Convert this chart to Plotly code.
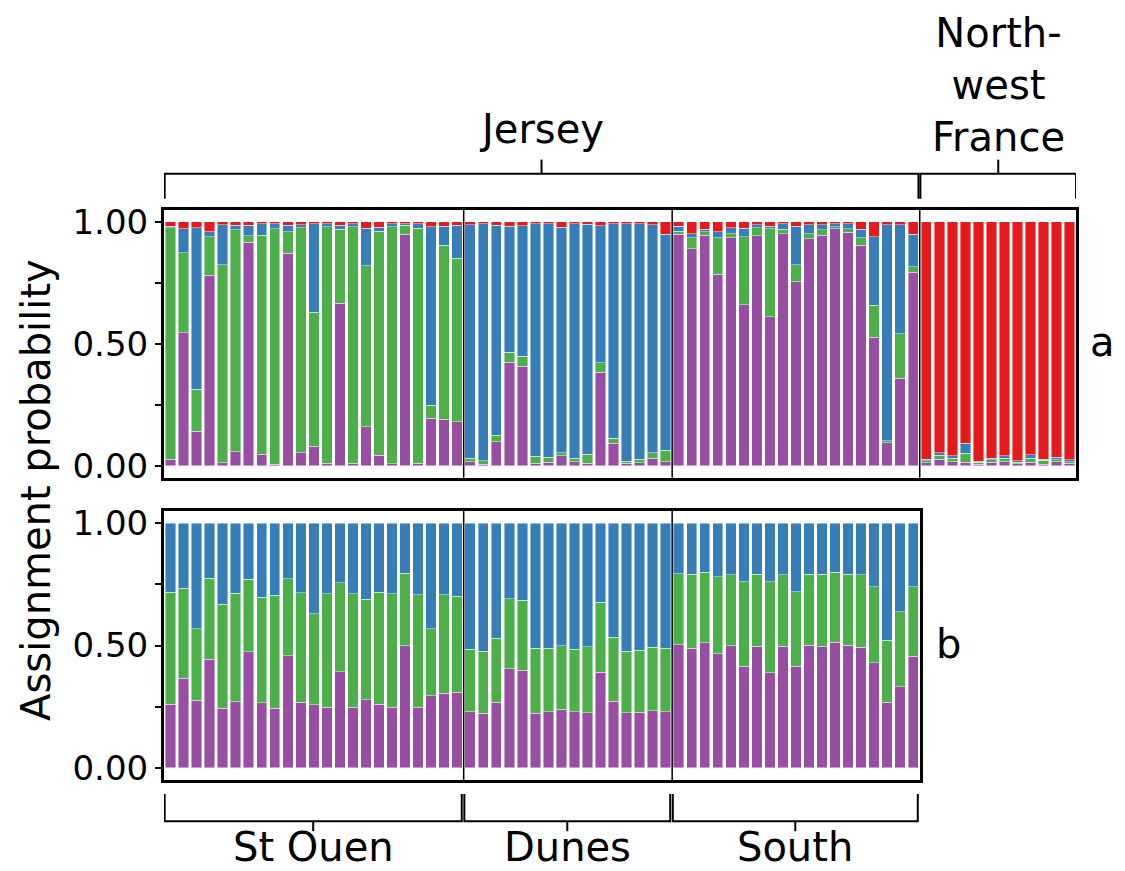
import numpy as np
import plotly.graph_objects as go

# ---------------- data ----------------
groups_a = ["St Ouen", "Dunes", "South", "North-west France"]
groups_b = ["St Ouen", "Dunes", "South"]

# Panel a: cumulative upper edges (purple, purple+green, purple+green+blue); red fills to 1
stouen_a_purple = [0.027,0.545,0.142,0.782,0.011,0.057,0.916,0.047,0.005,0.871,0.054,0.079,0.009,0.667,0.009,0.159,0.043,0.007,0.949,0.009,0.195,0.190,0.180]
stouen_a_green_top = [0.976,0.874,0.314,0.939,0.825,0.967,0.942,0.946,0.972,0.959,0.976,0.630,0.980,0.969,0.980,0.820,0.962,0.980,0.986,0.973,0.248,0.904,0.851]
stouen_a_blue_top = [0.982,0.972,0.976,0.959,0.989,0.986,0.986,0.992,0.992,0.986,0.989,0.992,0.992,0.986,0.993,0.973,0.978,0.992,0.992,0.993,0.980,0.982,0.986]

dunes_a_purple = [0.016,0.005,0.099,0.424,0.408,0.009,0.014,0.041,0.016,0.009,0.383,0.091,0.009,0.011,0.030,0.016]
dunes_a_green_top = [0.030,0.020,0.125,0.466,0.449,0.038,0.035,0.054,0.031,0.047,0.423,0.112,0.019,0.027,0.052,0.064]
dunes_a_blue_top = [0.989,0.993,0.986,0.981,0.985,0.992,0.993,0.978,0.993,0.990,0.985,0.993,0.993,0.993,0.989,0.949]

south_a_purple = [0.949,0.890,0.946,0.786,0.935,0.660,0.944,0.610,0.951,0.755,0.931,0.946,0.972,0.958,0.905,0.526,0.095,0.359,0.793]
south_a_green_top = [0.962,0.935,0.959,0.935,0.951,0.939,0.976,0.972,0.969,0.824,0.951,0.967,0.980,0.972,0.935,0.657,0.102,0.542,0.816]
south_a_blue_top = [0.982,0.951,0.969,0.959,0.976,0.973,0.989,0.982,0.993,0.982,0.989,0.989,0.993,0.993,0.969,0.938,0.989,0.989,0.949]

france_a_purple = [0.011,0.027,0.016,0.014,0.005,0.014,0.016,0.007,0.014,0.005,0.016,0.009]
france_a_green_top = [0.020,0.043,0.030,0.051,0.014,0.024,0.030,0.014,0.030,0.022,0.024,0.016]
france_a_blue_top = [0.027,0.052,0.041,0.092,0.019,0.030,0.041,0.020,0.045,0.027,0.034,0.024]

# Panel b: cumulative upper edges (purple, purple+green); blue fills to 1
stouen_b_purple = [0.260,0.366,0.276,0.443,0.244,0.271,0.474,0.267,0.244,0.458,0.268,0.257,0.247,0.392,0.247,0.279,0.260,0.247,0.499,0.248,0.294,0.305,0.309]
stouen_b_green_top = [0.718,0.734,0.569,0.775,0.668,0.714,0.771,0.698,0.705,0.772,0.715,0.629,0.711,0.756,0.711,0.688,0.718,0.711,0.795,0.707,0.568,0.707,0.701]

dunes_b_purple = [0.230,0.224,0.268,0.405,0.398,0.224,0.229,0.240,0.230,0.226,0.390,0.272,0.226,0.228,0.234,0.229]
dunes_b_green_top = [0.484,0.476,0.530,0.692,0.684,0.489,0.488,0.500,0.484,0.495,0.676,0.534,0.477,0.481,0.493,0.488]

south_b_purple = [0.504,0.489,0.512,0.467,0.500,0.415,0.497,0.388,0.497,0.415,0.501,0.497,0.514,0.501,0.493,0.430,0.268,0.332,0.457]
south_b_green_top = [0.794,0.791,0.799,0.780,0.789,0.760,0.791,0.760,0.789,0.720,0.791,0.791,0.799,0.791,0.789,0.740,0.522,0.637,0.740]

y_tick_vals = [0, 0.25, 0.5, 0.75, 1.0]
y_tick_text = ["0.00", "", "0.50", "", "1.00"]

COL = {"purple": "#984EA3", "green": "#4DAF4A", "blue": "#377EB8", "red": "#E41A1C"}
FONT = "DejaVu Sans"
W, H = 1125, 871

def px(v):
    return v / W

def py(v):
    # small vertical correction measured from a previous rendering
    return 1 - ((v - 6.5) / 0.982) / H

# ---------------- assemble ----------------
pa = np.array(stouen_a_purple + dunes_a_purple + south_a_purple + france_a_purple)
ga = np.array(stouen_a_green_top + dunes_a_green_top + south_a_green_top + france_a_green_top)
ba = np.array(stouen_a_blue_top + dunes_a_blue_top + south_a_blue_top + france_a_blue_top)
na = len(pa)
xa = np.arange(na)
comp_a = {"purple": pa, "green": ga - pa, "blue": ba - ga, "red": 1 - ba}

pb = np.array(stouen_b_purple + dunes_b_purple + south_b_purple)
gb = np.array(stouen_b_green_top + dunes_b_green_top + south_b_green_top)
nb = len(pb)
xb = np.arange(nb)
comp_b = {"purple": pb, "green": gb - pb, "blue": 1 - gb}

sizes_a = [len(stouen_a_purple), len(dunes_a_purple), len(south_a_purple), len(france_a_purple)]
sizes_b = [len(stouen_b_purple), len(dunes_b_purple), len(south_b_purple)]

fig = go.Figure()
mline = dict(color="rgba(255,255,255,0.55)", width=0.8)
for k, v in comp_a.items():
    fig.add_trace(go.Bar(x=xa, y=v, marker=dict(color=COL[k], line=mline),
                         xaxis="x", yaxis="y", showlegend=False, name=k))
for k, v in comp_b.items():
    fig.add_trace(go.Bar(x=xb, y=v, marker=dict(color=COL[k], line=mline),
                         xaxis="x2", yaxis="y2", showlegend=False, name=k))

pitch = 13.03
xa_dom = [px(164), px(164 + na * pitch)]
xb_dom = [px(164), px(164 + nb * pitch)]

yax = dict(range=[-0.05, 1.05], tickvals=y_tick_vals, ticktext=y_tick_text,
           ticks="outside", ticklen=6, tickwidth=2, tickcolor="black",
           showline=True, mirror=True, linewidth=3, linecolor="black",
           showgrid=False, zeroline=False,
           tickfont=dict(family=FONT, size=34, color="black"))
xax = dict(showticklabels=False, ticks="", showline=True, mirror=True,
           linewidth=3, linecolor="black", showgrid=False, zeroline=False)

fig.update_layout(
    width=W, height=H, margin=dict(l=0, r=0, t=0, b=0),
    paper_bgcolor="white", plot_bgcolor="white",
    barmode="stack", bargap=0.2,
    xaxis=dict(xax, domain=xa_dom, range=[-0.5, na - 0.5], anchor="y"),
    yaxis=dict(yax, domain=[py(476), py(208)], anchor="x"),
    xaxis2=dict(xax, domain=xb_dom, range=[-0.5, nb - 0.5], anchor="y2"),
    yaxis2=dict(yax, domain=[py(778), py(509)], anchor="x2"),
    font=dict(family=FONT, color="black"),
)

shapes = []
# group separators
bounds_a = np.cumsum(sizes_a)[:-1] - 0.5
for b in bounds_a:
    shapes.append(dict(type="line", xref="x", yref="y domain", x0=b, x1=b, y0=0, y1=1,
                       line=dict(color="black", width=1.5)))
bounds_b = np.cumsum(sizes_b)[:-1] - 0.5
for b in bounds_b:
    shapes.append(dict(type="line", xref="x2", yref="y2 domain", x0=b, x1=b, y0=0, y1=1,
                       line=dict(color="black", width=1.5)))

def bracket(xref, x0, x1, y_end, y_bar, y_tick):
    xm = (x0 + x1) / 2
    path = f"M {x0},{y_end} L {x0},{y_bar} L {x1},{y_bar} L {x1},{y_end}"
    shapes.append(dict(type="path", xref=xref, yref="paper", path=path,
                       line=dict(color="black", width=2)))
    shapes.append(dict(type="line", xref=xref, yref="paper", x0=xm, x1=xm, y0=y_bar, y1=y_tick,
                       line=dict(color="black", width=2)))
    return xm

n_jersey = sum(sizes_a[:3])
xm_jersey = bracket("x", -0.45, n_jersey - 0.6, py(197), py(172), py(158))
xm_france = bracket("x", n_jersey - 0.45, na - 0.5, py(197), py(172), py(158))

starts = np.concatenate([[0], np.cumsum(sizes_b)[:-1]])
mids_b = []
for s, n in zip(starts, sizes_b):
    mids_b.append(bracket("x2", s - 0.45, s + n - 0.65, py(792), py(819), py(829)))

fig.update_layout(shapes=shapes)

ann = []
big = dict(family=FONT, size=40, color="black")
ann.append(dict(text="Jersey", xref="x", yref="paper", x=xm_jersey, y=py(127),
                showarrow=False, font=big, xanchor="center", yanchor="middle"))
ann.append(dict(text="North-<br>west<br>France", xref="x", yref="paper", x=xm_france, y=py(83),
                showarrow=False, font=big, xanchor="center", yanchor="middle"))
for name, xm in zip(groups_b, mids_b):
    ann.append(dict(text=name, xref="x2", yref="paper", x=xm, y=py(845),
                    showarrow=False, font=big, xanchor="center", yanchor="middle"))
ann.append(dict(text="a", xref="paper", yref="paper", x=px(1102), y=py(340),
                showarrow=False, font=big, xanchor="center", yanchor="middle"))
ann.append(dict(text="b", xref="paper", yref="paper", x=px(949), y=py(642),
                showarrow=False, font=big, xanchor="center", yanchor="middle"))
ann.append(dict(text="Assignment probability", xref="paper", yref="paper", x=px(36), y=py(488),
                showarrow=False, font=big, textangle=-90, xanchor="center", yanchor="middle"))
fig.update_layout(annotations=ann)

fig.write_html("out.html", config={"displayModeBar": False},
               post_script="document.body.style.margin='0';document.body.style.overflow='hidden';")
